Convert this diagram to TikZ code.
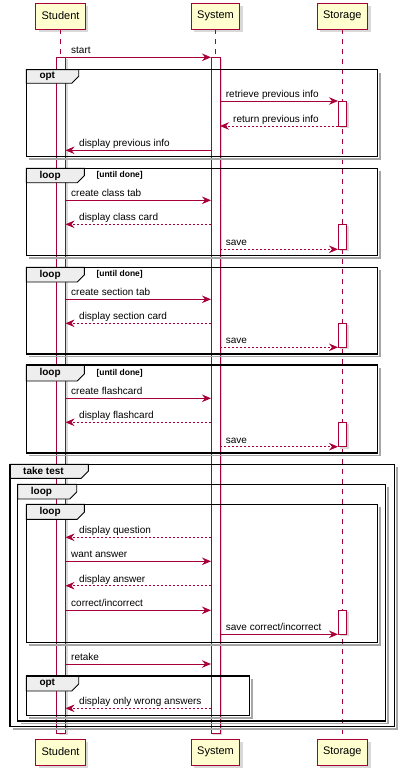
\documentclass[tikz,border=0pt]{standalone}
\usepackage{fontspec}
\setmainfont{Liberation Sans}
\usetikzlibrary{arrows.meta,shadows,positioning}

\definecolor{umlred}{HTML}{A80036}
\definecolor{umlyellow}{HTML}{FEFECE}
\definecolor{tabgray}{HTML}{EEEEEE}

\tikzset{
  actor/.style={draw=umlred, fill=umlyellow, line width=0.8pt, inner xsep=6pt,
    minimum height=26pt, font=\fontsize{11}{13}\selectfont,
    drop shadow={shadow xshift=3pt, shadow yshift=-3pt, opacity=0.3}},
  lifeline/.style={umlred, line width=0.7pt, dash pattern=on 5pt off 5pt},
  actbar/.style={draw=umlred, fill=white, line width=0.7pt,
    drop shadow={shadow xshift=2pt, shadow yshift=-2pt, opacity=0.3}},
  call/.style={umlred, line width=0.8pt, -{Stealth[length=9pt, width=7.5pt, inset=3pt]}},
  reply/.style={call, dash pattern=on 2pt off 2pt},
  msglabel/.style={anchor=base west, inner sep=0pt, font=\fontsize{10}{12}\selectfont},
  frameline/.style={draw=black, line width=1.4pt},
  frameshadow/.style={draw=black!35, line width=1.6pt},
  tabline/.style={draw=black, line width=0.9pt, fill=tabgray},
  grplabel/.style={anchor=west, inner sep=0pt, font=\bfseries\fontsize{10}{12}\selectfont},
  guardlabel/.style={anchor=west, inner sep=0pt, font=\bfseries\fontsize{8.5}{10}\selectfont}
}

% message: [style]{from x}{to x}{y}{label x}{text}
\newcommand{\msg}[6][call]{%
  \coordinate (msgFrom) at (#2,#4);
  \coordinate (msgTo) at (#3,#4);
  \draw[#1] (msgFrom) -- (msgTo);
  \node[msglabel] (msgText) at ({#5},{#4-3.5}) {#6};}

% group: [guard]{x1}{y1}{x2}{y2}{tab x}{tab y}{label}
\newcommand{\grp}[8][]{%
  \draw[frameshadow] ({#4+2.5},{#3+3}) -- ({#4+2.5},{#5+2.5}) -- ({#2+3},{#5+2.5});
  \draw[tabline] (#2,#3) -- (#6,#3) -- (#6,{#7-7}) -- ({#6-7},#7) -- (#2,#7) -- cycle;
  \draw[frameline] (#2,#3) rectangle (#4,#5);
  \node[grplabel] (grpName) at ({#2+13},{(#3+#7)/2}) {#8};
  \node[guardlabel] (grpGuard) at ({#6+12},{(#3+#7)/2}) {#1};}

\begin{document}
\begin{tikzpicture}[x=1pt,y=-1pt]
\useasboundingbox (0,0) rectangle (402,773);

% participants
\node[actor] (stuTop) at (60.5,16) {Student};
\node[actor] (sysTop) at (215.5,16) {System};
\node[actor] (stoTop) at (342.3,16) {Storage};
\node[actor] (stuBot) at (60.5,752) {Student};
\node[actor] (sysBot) at (215.5,752) {System};
\node[actor] (stoBot) at (342.3,752) {Storage};

\draw[lifeline] (stuTop.south) -- (stuBot.north);
\draw[lifeline] (sysTop.south) -- (sysBot.north);
\draw[lifeline] (stoTop.south) -- (stoBot.north);

% activations
\draw[actbar] (56.5,57.5) rectangle (65.5,733.3);
\draw[actbar] (211,57.5) rectangle (220,733.3);
\foreach \ya/\yb in {101/126, 224.3/249.3, 323.3/347.3, 422.3/446.7, 610.3/634.3}
  \draw[actbar] (338,\ya) rectangle (346.5,\yb);

% groups
\grp{26.3}{69.7}{377.7}{156.7}{78.7}{83.3}{opt}
\grp[{[until done]}]{26.3}{168.3}{377.7}{255.7}{84.3}{182.7}{loop}
\grp[{[until done]}]{26.3}{267.3}{377.7}{354}{84.3}{282}{loop}
\grp[{[until done]}]{26.3}{365}{377.7}{453}{84.3}{381}{loop}
\grp{10}{464.3}{394.3}{726.7}{88.3}{478.3}{take test}
\grp{17.7}{484.3}{385.7}{721}{76.7}{499}{loop}
\grp{26.3}{504.3}{377.7}{642.3}{84.3}{519.3}{loop}
\grp{26.3}{676}{249.7}{715.7}{78.7}{691}{opt}

% messages
\msg{65.5}{211}{57.3}{71}{start}
\msg{220}{338}{101}{225.7}{retrieve previous info}
\msg[reply]{338}{220}{126}{233}{return previous info}
\msg{211}{65.5}{150.3}{79}{display previous info}

\msg{65.5}{211}{200.3}{71}{create class tab}
\msg[reply]{211}{65.5}{224.3}{79}{display class card}
\msg[reply]{220}{338}{249.3}{225.7}{save}

\msg{65.5}{211}{299.3}{71}{create section tab}
\msg[reply]{211}{65.5}{323.3}{79}{display section card}
\msg[reply]{220}{338}{347.3}{225.7}{save}

\msg{65.5}{211}{398.3}{71}{create flashcard}
\msg[reply]{211}{65.5}{422.3}{79}{display flashcard}
\msg[reply]{220}{338}{446.7}{225.7}{save}

\msg[reply]{211}{65.5}{537.3}{79}{display question}
\msg{65.5}{211}{561.3}{71}{want answer}
\msg[reply]{211}{65.5}{585.7}{79}{display answer}
\msg{65.5}{211}{610.3}{71}{correct/incorrect}
\msg{220}{338}{634.3}{225.7}{save correct/incorrect}

\msg{65.5}{211}{664}{71}{retake}
\msg[reply]{211}{65.5}{708.3}{79}{display only wrong answers}
\end{tikzpicture}
\end{document}
